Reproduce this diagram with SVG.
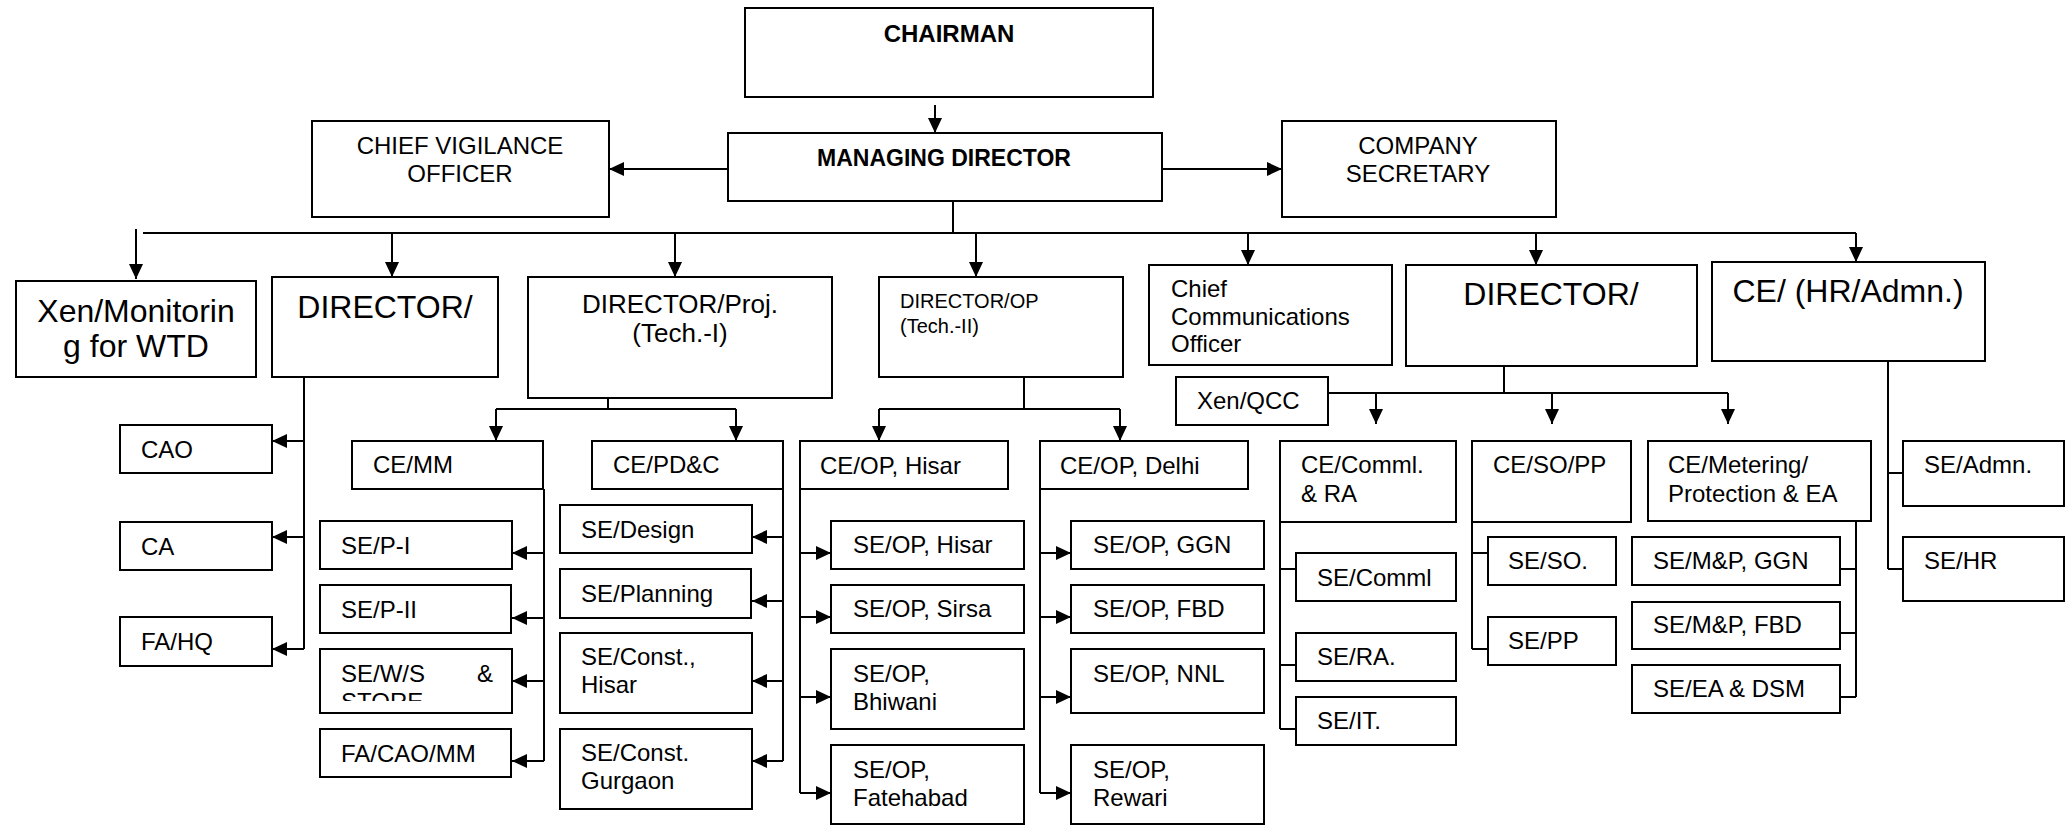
<svg xmlns="http://www.w3.org/2000/svg" width="2067" height="825" viewBox="0 0 2067 825">
<style>
.b{fill:#fff;stroke:#000;stroke-width:2}
.t{font-family:"Liberation Sans",Arial,sans-serif;font-size:24px;fill:#000}
.c{text-anchor:middle}
.bd{font-weight:bold}
.l{font-size:32px}
.m{font-size:26px}
.s{font-size:20px}
.ln{fill:none;stroke:#000;stroke-width:2}
.a{fill:none;stroke:#000;stroke-width:2;marker-end:url(#ah)}
</style>
<defs>
<marker id="ah" viewBox="0 0 15 14" refX="15" refY="7" markerWidth="15" markerHeight="14" markerUnits="userSpaceOnUse" orient="auto"><path d="M0,0 L15,7 L0,14 z" fill="#000"/></marker>
<clipPath id="wsclip"><rect x="320" y="649" width="192" height="52"/></clipPath>
</defs>
<rect width="2067" height="825" fill="#fff"/>
<g id="connectors">
<path class="a" d="M935,105 V133"/>
<path class="a" d="M728,169 H609"/>
<path class="a" d="M1162,169 H1282"/>
<path class="ln" d="M953,201 V233 M143,233 H1856"/>
<path class="a" d="M136,229 V279"/>
<path class="a" d="M392,233 V277"/>
<path class="a" d="M675,233 V277"/>
<path class="a" d="M976,233 V277"/>
<path class="a" d="M1248,233 V265"/>
<path class="a" d="M1536,233 V265"/>
<path class="a" d="M1856,233 V262"/>
<path class="ln" d="M304,377 V649"/>
<path class="a" d="M304,441 H272"/>
<path class="a" d="M304,537 H272"/>
<path class="a" d="M304,649 H272"/>
<path class="ln" d="M608,377 V409 M496,409 H736"/>
<path class="a" d="M496,409 V441"/>
<path class="a" d="M736,409 V441"/>
<path class="ln" d="M544,489 V761"/>
<path class="a" d="M544,553 H512"/>
<path class="a" d="M544,618 H512"/>
<path class="a" d="M544,681 H512"/>
<path class="a" d="M544,761 H512"/>
<path class="ln" d="M783,489 V761"/>
<path class="a" d="M783,537 H752"/>
<path class="a" d="M783,601 H752"/>
<path class="a" d="M783,681 H752"/>
<path class="a" d="M783,761 H752"/>
<path class="ln" d="M1024,377 V409 M879,409 H1120"/>
<path class="a" d="M879,409 V441"/>
<path class="a" d="M1120,409 V441"/>
<path class="ln" d="M800,489 V793"/>
<path class="a" d="M800,553 H831"/>
<path class="a" d="M800,617 H831"/>
<path class="a" d="M800,697 H831"/>
<path class="a" d="M800,793 H831"/>
<path class="ln" d="M1040,489 V793"/>
<path class="a" d="M1040,553 H1071"/>
<path class="a" d="M1040,617 H1071"/>
<path class="a" d="M1040,697 H1071"/>
<path class="a" d="M1040,793 H1071"/>
<path class="ln" d="M1504,361 V393 M1328,393 H1728"/>
<path class="a" d="M1376,393 V424"/>
<path class="a" d="M1552,393 V424"/>
<path class="a" d="M1728,393 V424"/>
<path class="ln" d="M1280,522 V729 M1280,569 H1296 M1280,665 H1296 M1280,729 H1296"/>
<path class="ln" d="M1472,522 V649 M1472,553 H1488 M1472,649 H1488"/>
<path class="ln" d="M1856,521 V697 M1856,569 H1840 M1856,633 H1840 M1856,697 H1840"/>
<path class="ln" d="M1888,361 V569 M1888,473 H1903 M1888,569 H1903"/>
</g>
<g id="chairman"><rect class="b" x="745" y="8" width="408" height="89"/><text class="t c bd" x="949" y="42">CHAIRMAN</text></g>
<g id="md"><rect class="b" x="728" y="133" width="434" height="68"/><text class="t c bd" x="944" y="166" style="font-size:23px">MANAGING DIRECTOR</text></g>
<g id="cvo"><rect class="b" x="312" y="121" width="297" height="96"/><text class="t c" x="460" y="154">CHIEF VIGILANCE</text><text class="t c" x="460" y="182">OFFICER</text></g>
<g id="cs"><rect class="b" x="1282" y="121" width="274" height="96"/><text class="t c" x="1418" y="154">COMPANY</text><text class="t c" x="1418" y="182">SECRETARY</text></g>
<g id="xen_monitoring"><rect class="b" x="16" y="281" width="240" height="96"/><text class="t c l" x="136" y="322">Xen/Monitorin</text><text class="t c l" x="136" y="357">g for WTD</text></g>
<g id="director_1"><rect class="b" x="272" y="277" width="226" height="100"/><text class="t c l" x="385" y="318">DIRECTOR/</text></g>
<g id="director_proj"><rect class="b" x="528" y="277" width="304" height="121"/><text class="t c m" x="680" y="313">DIRECTOR/Proj.</text><text class="t c m" x="680" y="342">(Tech.-I)</text></g>
<g id="director_op"><rect class="b" x="879" y="277" width="244" height="100"/><text class="t s" x="900" y="308">DIRECTOR/OP</text><text class="t s" x="900" y="333">(Tech.-II)</text></g>
<g id="cco"><rect class="b" x="1149" y="265" width="243" height="100"/><text class="t" x="1171" y="297">Chief</text><text class="t" x="1171" y="325">Communications</text><text class="t" x="1171" y="352">Officer</text></g>
<g id="director_2"><rect class="b" x="1406" y="265" width="291" height="101"/><text class="t c l" x="1551" y="305">DIRECTOR/</text></g>
<g id="ce_hr_admn"><rect class="b" x="1712" y="262" width="273" height="99"/><text class="t c l" x="1848" y="302">CE/ (HR/Admn.)</text></g>
<g id="cao"><rect class="b" x="120" y="425" width="152" height="48"/><text class="t" x="141" y="458">CAO</text></g>
<g id="ca"><rect class="b" x="120" y="522" width="152" height="48"/><text class="t" x="141" y="555">CA</text></g>
<g id="fa_hq"><rect class="b" x="120" y="617" width="152" height="49"/><text class="t" x="141" y="650">FA/HQ</text></g>
<g id="ce_mm"><rect class="b" x="352" y="441" width="191" height="48"/><text class="t" x="373" y="473">CE/MM</text></g>
<g id="se_p1"><rect class="b" x="320" y="521" width="192" height="48"/><text class="t" x="341" y="554">SE/P-I</text></g>
<g id="se_p2"><rect class="b" x="320" y="585" width="191" height="48"/><text class="t" x="341" y="618">SE/P-II</text></g>
<g id="se_ws"><rect class="b" x="320" y="649" width="192" height="64"/><text class="t" y="682"><tspan x="341">SE/W/S</tspan><tspan x="477">&amp;</tspan></text><text class="t" x="341" y="710" clip-path="url(#wsclip)">STORE</text></g>
<g id="fa_cao_mm"><rect class="b" x="320" y="729" width="191" height="48"/><text class="t" x="341" y="762">FA/CAO/MM</text></g>
<g id="ce_pdc"><rect class="b" x="592" y="441" width="191" height="48"/><text class="t" x="613" y="473">CE/PD&amp;C</text></g>
<g id="se_design"><rect class="b" x="560" y="505" width="192" height="48"/><text class="t" x="581" y="538">SE/Design</text></g>
<g id="se_planning"><rect class="b" x="560" y="569" width="191" height="49"/><text class="t" x="581" y="602">SE/Planning</text></g>
<g id="se_const_hisar"><rect class="b" x="560" y="633" width="192" height="80"/><text class="t" x="581" y="665">SE/Const.,</text><text class="t" x="581" y="693">Hisar</text></g>
<g id="se_const_gurgaon"><rect class="b" x="560" y="729" width="192" height="80"/><text class="t" x="581" y="761">SE/Const.</text><text class="t" x="581" y="789">Gurgaon</text></g>
<g id="ce_op_hisar"><rect class="b" x="800" y="441" width="208" height="48"/><text class="t" x="820" y="474">CE/OP, Hisar</text></g>
<g id="se_op_hisar"><rect class="b" x="831" y="521" width="193" height="48"/><text class="t" x="853" y="553">SE/OP, Hisar</text></g>
<g id="se_op_sirsa"><rect class="b" x="831" y="585" width="193" height="48"/><text class="t" x="853" y="617">SE/OP, Sirsa</text></g>
<g id="se_op_bhiwani"><rect class="b" x="831" y="649" width="193" height="80"/><text class="t" x="853" y="682">SE/OP,</text><text class="t" x="853" y="710">Bhiwani</text></g>
<g id="se_op_fatehabad"><rect class="b" x="831" y="745" width="193" height="79"/><text class="t" x="853" y="778">SE/OP,</text><text class="t" x="853" y="806">Fatehabad</text></g>
<g id="ce_op_delhi"><rect class="b" x="1040" y="441" width="208" height="48"/><text class="t" x="1060" y="474">CE/OP, Delhi</text></g>
<g id="se_op_ggn"><rect class="b" x="1071" y="521" width="193" height="48"/><text class="t" x="1093" y="553">SE/OP, GGN</text></g>
<g id="se_op_fbd"><rect class="b" x="1071" y="585" width="193" height="48"/><text class="t" x="1093" y="617">SE/OP, FBD</text></g>
<g id="se_op_nnl"><rect class="b" x="1071" y="649" width="193" height="64"/><text class="t" x="1093" y="682">SE/OP, NNL</text></g>
<g id="se_op_rewari"><rect class="b" x="1071" y="745" width="193" height="79"/><text class="t" x="1093" y="778">SE/OP,</text><text class="t" x="1093" y="806">Rewari</text></g>
<g id="xen_qcc"><rect class="b" x="1176" y="377" width="152" height="48"/><text class="t" x="1197" y="409">Xen/QCC</text></g>
<g id="ce_comml"><rect class="b" x="1280" y="441" width="176" height="81"/><text class="t" x="1301" y="473">CE/Comml.</text><text class="t" x="1301" y="502">&amp; RA</text></g>
<g id="se_comml"><rect class="b" x="1296" y="553" width="160" height="48"/><text class="t" x="1317" y="586">SE/Comml</text></g>
<g id="se_ra"><rect class="b" x="1296" y="633" width="160" height="48"/><text class="t" x="1317" y="665">SE/RA.</text></g>
<g id="se_it"><rect class="b" x="1296" y="697" width="160" height="48"/><text class="t" x="1317" y="729">SE/IT.</text></g>
<g id="ce_so_pp"><rect class="b" x="1472" y="441" width="159" height="81"/><text class="t" x="1493" y="473">CE/SO/PP</text></g>
<g id="se_so"><rect class="b" x="1488" y="537" width="128" height="48"/><text class="t" x="1508" y="569">SE/SO.</text></g>
<g id="se_pp"><rect class="b" x="1488" y="617" width="128" height="48"/><text class="t" x="1508" y="649">SE/PP</text></g>
<g id="ce_metering"><rect class="b" x="1648" y="441" width="223" height="80"/><text class="t" x="1668" y="473">CE/Metering/</text><text class="t" x="1668" y="502">Protection &amp; EA</text></g>
<g id="se_mp_ggn"><rect class="b" x="1632" y="537" width="208" height="48"/><text class="t" x="1653" y="569">SE/M&amp;P, GGN</text></g>
<g id="se_mp_fbd"><rect class="b" x="1632" y="602" width="208" height="47"/><text class="t" x="1653" y="633">SE/M&amp;P, FBD</text></g>
<g id="se_ea_dsm"><rect class="b" x="1632" y="665" width="208" height="48"/><text class="t" x="1653" y="697">SE/EA &amp; DSM</text></g>
<g id="se_admn"><rect class="b" x="1903" y="441" width="161" height="65"/><text class="t" x="1924" y="473">SE/Admn.</text></g>
<g id="se_hr"><rect class="b" x="1903" y="537" width="161" height="64"/><text class="t" x="1924" y="569">SE/HR</text></g>
</svg>
